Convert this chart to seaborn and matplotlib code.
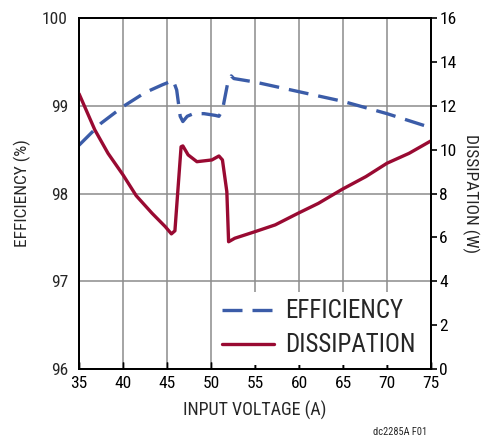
import matplotlib
matplotlib.use("Agg")
import matplotlib.pyplot as plt
from matplotlib import font_manager
import seaborn as sns
import pandas as pd

# ---- data ----
x_eff = [35, 37.5, 40, 42.5, 44.5, 45.0, 45.7, 46.1, 46.5, 46.8, 47.3, 48.0,
         49.2, 50.5, 50.9, 51.3, 51.9, 52.3, 52.6, 55, 60, 65, 70, 75]
efficiency = [98.55, 98.80, 98.99, 99.15, 99.24, 99.26, 99.29, 99.18, 98.88,
              98.82, 98.88, 98.91, 98.91, 98.89, 98.88, 98.95, 99.26, 99.34,
              99.31, 99.27, 99.16, 99.05, 98.91, 98.75]

x_dis = [35, 36.8, 38.3, 40, 41.5, 43.3, 44.8, 45.5, 45.9, 46.1, 46.6, 46.8,
         47.4, 48.4, 50.1, 50.9, 51.3, 51.8, 52.0, 52.7, 55, 57.3, 59.9, 62.2,
         64.9, 67.6, 70, 72.5, 75]
dissipation = [12.55, 10.9, 9.83, 8.85, 7.9, 7.1, 6.49, 6.16, 6.3, 7.4, 10.13,
               10.17, 9.76, 9.45, 9.53, 9.71, 9.53, 8.08, 5.8, 5.96, 6.26,
               6.57, 7.1, 7.55, 8.19, 8.77, 9.38, 9.83, 10.4]

x_ticks = [35, 40, 45, 50, 55, 60, 65, 70, 75]
eff_ticks = [96, 97, 98, 99, 100]
dis_ticks = [0, 2, 4, 6, 8, 10, 12, 14, 16]

df_eff = pd.DataFrame({"v": x_eff, "eff": efficiency})
df_dis = pd.DataFrame({"v": x_dis, "dis": dissipation})

sns.set_theme(style="white")
avail = {f.name for f in font_manager.fontManager.ttflist}
fam = [f for f in ["Liberation Sans Narrow", "Roboto Condensed", "Liberation Sans"] if f in avail] + ["DejaVu Sans"]
plt.rcParams["font.family"] = fam

BLUE = "#3b5ca8"
RED = "#990a32"
GRID = "#8c8c8c"

fig = plt.figure(figsize=(4.88, 4.38), dpi=100)
ax = fig.add_axes([79/488, 1-369/438, (431-79)/488, (369-18)/438])
ax2 = ax.twinx()

sns.lineplot(data=df_eff, x="v", y="eff", ax=ax, color=BLUE, lw=2.4,
             sort=False, estimator=None, label="EFFICIENCY", legend=False)
ax.lines[-1].set_dashes((6, 3))
sns.lineplot(data=df_dis, x="v", y="dis", ax=ax2, color=RED, lw=2.4,
             sort=False, estimator=None, label="DISSIPATION", legend=False)

ax.set_xlim(35, 75)
ax.set_ylim(96, 100)
ax2.set_ylim(0, 16)
ax.set_xticks(x_ticks)
ax.set_yticks(eff_ticks)
ax2.set_yticks(dis_ticks)

ax.grid(True, color=GRID, lw=1.1)
ax2.grid(False)
ax.set_axisbelow(True)

for a in (ax, ax2):
    for s in a.spines.values():
        s.set_color("black")
        s.set_linewidth(1.3)

ax.tick_params(axis="x", direction="in", length=5, width=1, colors="black",
               labelsize=12.5, pad=5, bottom=True)
ax.tick_params(axis="y", length=0, labelsize=12.5, pad=8, left=True)
ax2.tick_params(axis="y", direction="out", length=4, width=1.2, colors="black",
                labelsize=12.5, pad=2, right=True)

# inward x tick marks repeated on the twin so they stay above the legend box
ax2.xaxis.set_visible(True)
ax2.set_xlabel("")
ax2.tick_params(axis="x", direction="in", length=5, width=1, color="black",
                bottom=True, top=False, labelbottom=False, labeltop=False)

ax.set_xlabel("INPUT VOLTAGE (A)", fontsize=13, labelpad=7)
ax.set_ylabel("EFFICIENCY (%)", fontsize=12.5, labelpad=8)
ax2.set_ylabel("DISSIPATION (W)", fontsize=12.5, rotation=270, labelpad=16)

handles = ax.lines[:1] + ax2.lines[:1]
leg = ax2.legend(handles, ["EFFICIENCY", "DISSIPATION"], loc="lower right",
                 bbox_to_anchor=(0.978, 0.012), borderaxespad=0, fontsize=18,
                 frameon=True, facecolor="white", edgecolor="none", framealpha=1,
                 fancybox=False, handlelength=2.1, handletextpad=0.45,
                 labelspacing=0.4, borderpad=0.3)
leg.set_zorder(2.2)

fig.text(427/488, 1-432/438, "dc2285A F01", fontsize=7.5, ha="right", va="center")

fig.savefig("out.png", dpi=100)
